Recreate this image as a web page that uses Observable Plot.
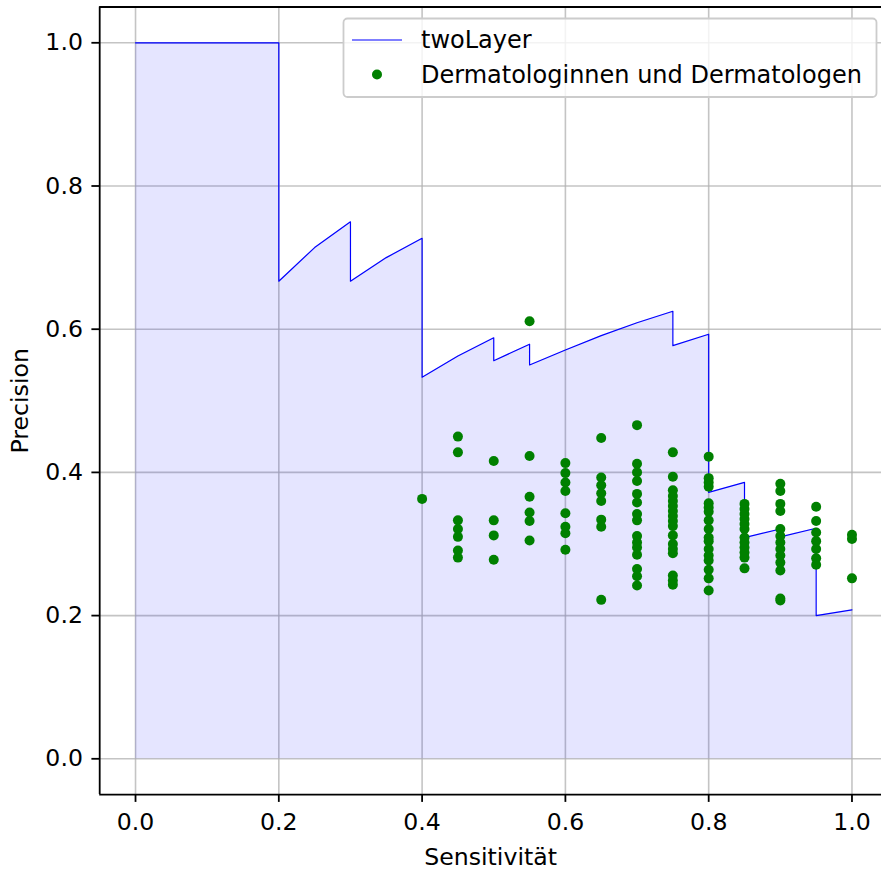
<!DOCTYPE html>
<html><head><meta charset="utf-8">
<script src="https://cdn.jsdelivr.net/npm/d3@7"></script>
<script src="https://cdn.jsdelivr.net/npm/@observablehq/plot@0.6"></script>
<style>
html,body{margin:0;padding:0;background:#fff;overflow:hidden}
#chart{position:relative;width:881px;height:870px;overflow:hidden}
#chart svg{display:block}
#legend{position:absolute;left:0;top:0;pointer-events:none}
</style></head><body><div id="chart"></div>
<script>
// PR curve of the "twoLayer" model
const curveRecall = [0, 0.2, 0.2, 0.25, 0.3, 0.3, 0.35, 0.4, 0.4, 0.45, 0.5, 0.5, 0.55, 0.55,
  0.6, 0.65, 0.7, 0.75, 0.75, 0.8, 0.8, 0.85, 0.85, 0.9, 0.9, 0.95, 0.95, 1.0];
const curvePrecision = [1, 1, 0.667, 0.714, 0.75, 0.667, 0.7, 0.727, 0.533, 0.5625, 0.588, 0.556, 0.579, 0.55,
  0.571, 0.591, 0.609, 0.625, 0.577, 0.593, 0.372, 0.386, 0.309, 0.321, 0.31, 0.322, 0.2, 0.208];

// Dermatologists: sensitivity columns and the precision values in each
const dermSensitivity = [0.4, 0.45, 0.5, 0.55, 0.6, 0.65, 0.7, 0.75, 0.8, 0.85, 0.9, 0.95, 1.0];
const dermPrecision = [
  [0.363],
  [0.450, 0.428, 0.333, 0.321, 0.310, 0.291, 0.281],
  [0.416, 0.333, 0.312, 0.278],
  [0.611, 0.423, 0.366, 0.344, 0.332, 0.305],
  [0.413, 0.399, 0.386, 0.374, 0.343, 0.324, 0.315, 0.292],
  [0.448, 0.393, 0.382, 0.371, 0.360, 0.334, 0.324, 0.222],
  [0.466, 0.412, 0.400, 0.388, 0.370, 0.358, 0.342, 0.333, 0.311, 0.302, 0.295, 0.285, 0.265, 0.255, 0.242],
  [0.428, 0.394, 0.375, 0.367, 0.360, 0.353, 0.346, 0.339, 0.332, 0.325, 0.312, 0.300, 0.293, 0.287, 0.256, 0.249, 0.243],
  [0.422, 0.392, 0.386, 0.380, 0.357, 0.351, 0.345, 0.333, 0.321, 0.309, 0.304, 0.293, 0.284, 0.277, 0.264, 0.252, 0.235],
  [0.356, 0.349, 0.342, 0.335, 0.328, 0.321, 0.309, 0.302, 0.295, 0.288, 0.281, 0.266],
  [0.384, 0.374, 0.356, 0.346, 0.321, 0.311, 0.302, 0.293, 0.284, 0.274, 0.263, 0.224, 0.221],
  [0.352, 0.332, 0.316, 0.304, 0.293, 0.280, 0.271],
  [0.313, 0.307, 0.252]
];

const xTicks = [0, 0.2, 0.4, 0.6, 0.8, 1.0];
const yTicks = [0, 0.2, 0.4, 0.6, 0.8, 1.0];
const seriesNames = ["twoLayer", "Dermatologinnen und Dermatologen"];
const xLabel = "Sensitivität";
const yLabel = "Precision";

const curve = curveRecall.map((r, i) => ({r, p: curvePrecision[i]}));
const derm = dermSensitivity.flatMap((s, i) => dermPrecision[i].map(p => ({s, p})));

const W = 881, H = 870;
const mL = 99.2, mT = 6.5, mB = H - 794.1;
const fmt = d3.format(".1f");

const chart = Plot.plot({
  width: W, height: H,
  marginLeft: mL, marginRight: 0, marginTop: mT, marginBottom: mB,
  x: {domain: [-0.05, 1.05], range: [mL, 887.3]},
  y: {domain: [-0.05, 1.05], range: [794.1, mT]},
  style: {fontFamily: "DejaVu Sans", fontSize: "23.6px", color: "#000", background: "#fff", overflow: "hidden"},
  marks: [
    Plot.gridX(xTicks, {stroke: "#b0b0b0", strokeOpacity: 0.75, strokeWidth: 1.6}),
    Plot.gridY(yTicks, {stroke: "#b0b0b0", strokeOpacity: 0.75, strokeWidth: 1.6}),
    Plot.area(curve, {x1: "r", y1: 0, y2: "p", fill: "#0000ff", fillOpacity: 0.1, curve: "linear"}),
    Plot.line(curve, {x: "r", y: "p", stroke: "#0000ff", strokeWidth: 1.2, curve: "linear"}),
    Plot.dot(derm, {x: "s", y: "p", r: 5, fill: "#008000", stroke: "none"}),
    Plot.ruleX([-0.05], {stroke: "#000", strokeWidth: 1.8}),
    Plot.ruleY([-0.05, 1.05], {stroke: "#000", strokeWidth: 1.8}),
    Plot.axisX(xTicks, {tickFormat: fmt, tickSize: 7.8, tickPadding: 11, strokeWidth: 1.8,
      label: xLabel, labelAnchor: "center", labelArrow: false, labelOffset: 70}),
    Plot.axisY(yTicks, {tickFormat: fmt, tickSize: 7.8, tickPadding: 9, strokeWidth: 1.8,
      label: yLabel, labelAnchor: "center", labelArrow: false, labelOffset: 88})
  ]
});
const host = document.getElementById("chart");
host.appendChild(chart);

// legend overlay (matplotlib-style box, upper right)
const ns = "http://www.w3.org/2000/svg";
const lg = document.createElementNS(ns, "svg");
lg.setAttribute("id", "legend");
lg.setAttribute("width", W); lg.setAttribute("height", H);
lg.innerHTML = `
  <rect x="343.5" y="18.5" width="533" height="78.5" rx="4" ry="4" fill="#fff" fill-opacity="0.8" stroke="#cccccc" stroke-width="1.8"/>
  <line x1="352" y1="40" x2="402" y2="40" stroke="#0000ff" stroke-width="1.2"/>
  <circle cx="377" cy="74.5" r="5" fill="#008000"/>
  <text x="421" y="48" font-family="DejaVu Sans" font-size="24px" fill="#000">${seriesNames[0]}</text>
  <text x="421" y="83" font-family="DejaVu Sans" font-size="24px" fill="#000">${seriesNames[1]}</text>`;
host.appendChild(lg);
</script></body></html>
